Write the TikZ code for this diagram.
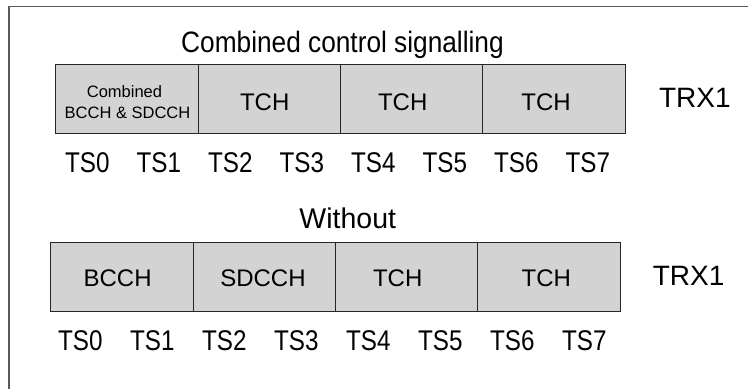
\documentclass[tikz,border=0pt]{standalone}
\usepackage{fontspec}
\setmainfont{Liberation Sans}
\newfontfamily\titlefont[FakeStretch=0.89]{Liberation Sans}
\newfontfamily\tsfont[FakeStretch=0.85]{Liberation Sans}
\definecolor{slotgray}{RGB}{211,211,211}
\definecolor{framegray}{RGB}{90,90,90}
\begin{document}
\begin{tikzpicture}[x=1pt,y=-1pt,
  slot/.style={draw=black!85, line width=1pt, fill=slotgray, minimum width=142.25pt, minimum height=69pt, inner sep=0pt},
  boxlbl/.style={anchor=base, inner sep=0pt, font=\fontsize{24}{28}\selectfont},
  smalllbl/.style={anchor=base, inner sep=0pt, font=\fontsize{16.5}{19}\selectfont},
  tslbl/.style={anchor=base, inner sep=0pt, font=\tsfont\fontsize{28.5}{32}\selectfont},
  trxlbl/.style={anchor=base, inner sep=0pt, font=\fontsize{28}{32}\selectfont},
  titlelbl/.style={anchor=base, inner sep=0pt, font=\titlefont\fontsize{29.5}{34}\selectfont},
  withoutlbl/.style={anchor=base, inner sep=0pt, font=\fontsize{28.5}{32}\selectfont}]
\useasboundingbox (0,0) rectangle (748,389);
% frame
\coordinate (fr1) at (748,6.5);
\coordinate (fr2) at (9,6.5);
\coordinate (fr3) at (9,389);
\draw[framegray, line width=1.5pt] (fr1) -- (fr2) -- (fr3);

% top row
\node[titlelbl] (title) at (342.5,52.3) {Combined control signalling};
\node[slot] (a1) at (127.1,98.5) {};
\node[slot] (a2) at (269.4,98.5) {};
\node[slot] (a3) at (411.6,98.5) {};
\node[slot] (a4) at (553.9,98.5) {};
\node[smalllbl] (cb1) at (124.5,97.3) {Combined};
\node[smalllbl] (cb2) at (127.5,118.3) {BCCH \& SDCCH};
\node[boxlbl] (ta2) at (264.7,110) {TCH};
\node[boxlbl] (ta3) at (402.7,110) {TCH};
\node[boxlbl] (ta4) at (546,110) {TCH};
\node[trxlbl] (trxa) at (694.8,107.7) {TRX1};
\foreach \i in {0,...,7}
  \node[tslbl] (tsa\i) at ({87.4+71.5*\i},172.3) {TS\i};

% bottom row
\node[withoutlbl] (without) at (347.8,228.3) {Without};
\node[slot] (b1) at (122.1,276.5) {};
\node[slot] (b2) at (264.4,276.5) {};
\node[slot] (b3) at (406.6,276.5) {};
\node[slot] (b4) at (548.9,276.5) {};
\node[boxlbl] (tb1) at (117.6,286.5) {BCCH};
\node[boxlbl] (tb2) at (263,286.5) {SDCCH};
\node[boxlbl] (tb3) at (397.7,286.5) {TCH};
\node[boxlbl] (tb4) at (546.3,286.5) {TCH};
\node[trxlbl] (trxb) at (688.6,285) {TRX1};
\foreach \i in {0,...,7}
  \node[tslbl] (tsb\i) at ({80.4+72*\i},350) {TS\i};
\end{tikzpicture}
\end{document}
